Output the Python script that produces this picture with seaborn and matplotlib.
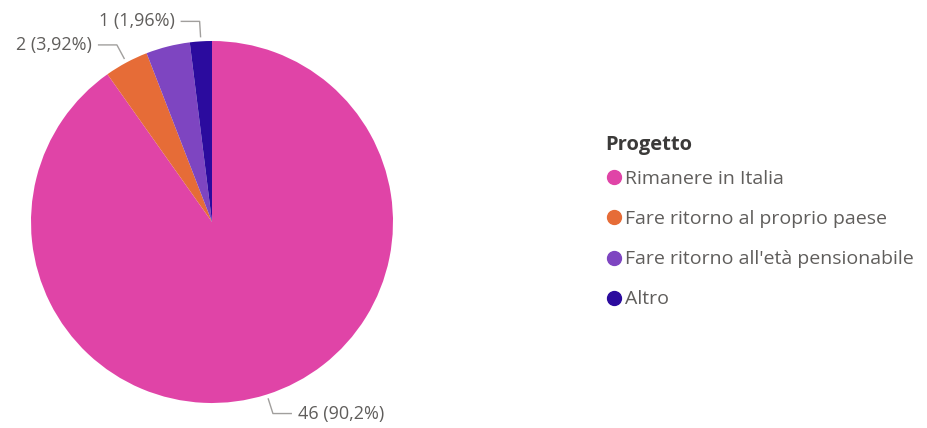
import numpy as np
import matplotlib
matplotlib.use("Agg")
import matplotlib.pyplot as plt
from matplotlib.lines import Line2D
import seaborn as sns

# data
categorie = ["Rimanere in Italia", "Fare ritorno al proprio paese",
             "Fare ritorno all'età pensionabile", "Altro"]
conteggi = [46, 2, 2, 1]
colori = ["#E044A7", "#E66C37", "#7E45C1", "#2B0B9E"]
etichette = ["46 (90,2%)", "2 (3,92%)", None, "1 (1,96%)"]

sns.set_theme(style="white")
plt.rcParams["font.family"] = ["Open Sans", "DejaVu Sans"]

W, H = 928, 428
fig = plt.figure(figsize=(W / 100, H / 100), dpi=100)
ax = fig.add_axes([0, 0, 1, 1])

cx, cy, r = 212, H - 222, 181
wedges, _ = ax.pie(conteggi, colors=colori, startangle=90, counterclock=False,
                   center=(cx, cy), radius=r, frame=True,
                   wedgeprops=dict(linewidth=0))
ax.set_xlim(0, W)
ax.set_ylim(0, H)
ax.set_aspect("equal")
ax.axis("off")

grigio = "#605E5C"
linea = "#A19F9D"
for w, lab in zip(wedges, etichette):
    if lab is None:
        continue
    ang = np.deg2rad((w.theta1 + w.theta2) / 2)
    x0, y0 = cx + (r + 4) * np.cos(ang), cy + (r + 4) * np.sin(ang)
    x1, y1 = cx + (r + 20) * np.cos(ang), cy + (r + 20) * np.sin(ang)
    sgn = -1 if np.cos(ang) < 0 else 1
    x2 = x1 + sgn * 19
    ax.plot([x0, x1, x2], [y0, y1, y1], color=linea, lw=1, solid_capstyle="butt")
    ax.text(x2 + sgn * 6, y1, lab, ha="left" if sgn > 0 else "right",
            va="center", fontsize=13, color=grigio)

# legend title drawn apart so the gap to the first row is tighter
ax.text(605, H - 145, "Progetto", ha="left", va="center", fontsize=14.5,
        fontweight="bold", color="#3B3A39")

handles = [Line2D([], [], marker="o", linestyle="", markersize=10,
                  markerfacecolor=c, markeredgecolor=c) for c in colori]
leg = ax.legend(handles, categorie, loc="upper left",
                bbox_to_anchor=(607 / W, 1 - 170 / H), frameon=False,
                fontsize=14, labelcolor=grigio, handletextpad=0.2,
                handlelength=0.75, labelspacing=1.14, borderaxespad=0,
                borderpad=0)

fig.savefig("out.png", dpi=100)
